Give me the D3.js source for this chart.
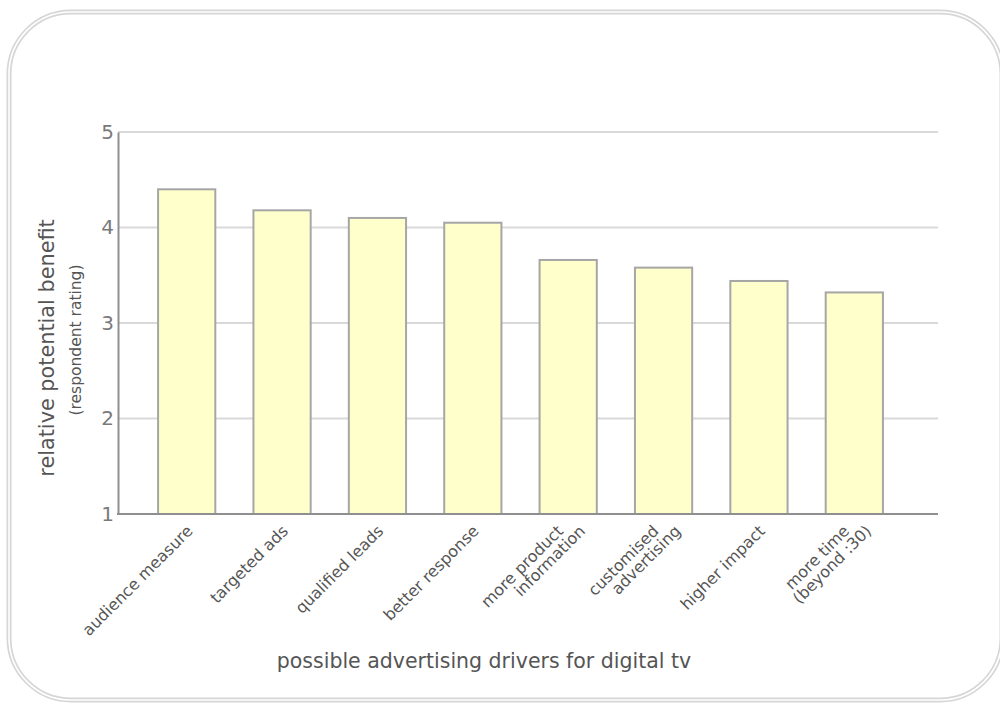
<!DOCTYPE html>
<html>
<head>
<meta charset="utf-8">
<script src="https://cdn.jsdelivr.net/npm/d3@7"></script>
<style>
  body { margin: 0; background: #fff; }
  text { font-family: "DejaVu Sans", Verdana, sans-serif; }
</style>
</head>
<body>
<div id="chart"></div>
<script>
// data
const drivers = [
    ["audience measure"],
    ["targeted ads"],
    ["qualified leads"],
    ["better response"],
    ["more product", "information"],
    ["customised", "advertising"],
    ["higher impact"],
    ["more time", "(beyond :30)"]
];
const ratings = [4.40, 4.18, 4.10, 4.05, 3.66, 3.58, 3.44, 3.32];
const yTicks = [1, 2, 3, 4, 5];

const W = 1000, H = 704;
let plot = { left: 118, right: 938, top: 132, bottom: 514 };

let svg = d3.select("#chart").append("svg")
    .attr("width", W)
    .attr("height", H);

// double rounded frame
let frame = d3.path();
function roundRect(p, x0, y0, x1, y1, r) {
    p.moveTo(x0 + r, y0);
    p.lineTo(x1 - r, y0);
    p.arcTo(x1, y0, x1, y0 + r, r);
    p.lineTo(x1, y1 - r);
    p.arcTo(x1, y1, x1 - r, y1, r);
    p.lineTo(x0 + r, y1);
    p.arcTo(x0, y1, x0, y1 - r, r);
    p.lineTo(x0, y0 + r);
    p.arcTo(x0, y0, x0 + r, y0, r);
    p.closePath();
    return p;
}
roundRect(frame, 9, 12, 1002, 700, 62);
svg.append("path").attr("d", frame.toString())
    .attr("fill", "none").attr("stroke", "#d6d6d6").attr("stroke-width", 5);
svg.append("path").attr("d", frame.toString())
    .attr("fill", "none").attr("stroke", "#fff").attr("stroke-width", 1.6);

// scales
let x = d3.scaleBand()
    .domain(drivers.map((d, i) => i))
    .range([139, 902])
    .paddingInner(0.4)
    .paddingOuter(0.2);
let y = d3.scaleLinear()
    .domain([1, 5])
    .range([plot.bottom, plot.top]);

// gridlines
svg.append("g")
    .selectAll("line")
    .data(yTicks.filter(d => d > 1))
    .join("line")
    .attr("x1", plot.left)
    .attr("x2", plot.right)
    .attr("y1", d => y(d))
    .attr("y2", d => y(d))
    .attr("stroke", "#d9d9d9")
    .attr("stroke-width", 2);

// bars
svg.append("g")
    .selectAll("rect")
    .data(ratings)
    .join("rect")
    .attr("x", (d, i) => x(i))
    .attr("y", d => y(d))
    .attr("width", x.bandwidth())
    .attr("height", d => y(1) - y(d))
    .attr("fill", "#ffffcc")
    .attr("stroke", "#a6a6a6")
    .attr("stroke-width", 2);

// axes lines
let yAxis = d3.axisLeft(y).tickValues(yTicks).tickFormat(d3.format("d")).tickSize(0).tickPadding(4);
svg.append("g")
    .attr("transform", `translate(${plot.left},0)`)
    .call(yAxis)
    .call(g => g.select(".domain").attr("stroke", "#8f8f8f").attr("stroke-width", 2))
    .call(g => g.selectAll(".tick text")
        .attr("font-size", 20)
        .attr("font-family", "DejaVu Sans, Verdana, sans-serif")
        .attr("fill", "#7a7a7a"));

svg.append("line")
    .attr("x1", plot.left - 1)
    .attr("x2", plot.right)
    .attr("y1", plot.bottom)
    .attr("y2", plot.bottom)
    .attr("stroke", "#8f8f8f")
    .attr("stroke-width", 2);

// category labels, rotated
let lineStep = 22;
let labels = svg.append("g")
    .selectAll("g")
    .data(drivers)
    .join("g");
labels.each(function(lines, i) {
    let cx = x(i) + x.bandwidth() / 2;
    lines.forEach((t, k) => {
        let ax = cx + 7 + (k - (lines.length - 1) / 2) * lineStep;
        d3.select(this).append("text")
            .attr("transform", `translate(${ax},532) rotate(-45)`)
            .attr("text-anchor", "end")
            .attr("font-size", 16)
            .attr("fill", "#555")
            .text(t);
    });
});

// axis titles
svg.append("text")
    .attr("transform", "translate(54,348) rotate(-90)")
    .attr("text-anchor", "middle")
    .attr("font-size", 20.8)
    .attr("fill", "#555")
    .text("relative potential benefit");

svg.append("text")
    .attr("transform", "translate(81,340) rotate(-90)")
    .attr("text-anchor", "middle")
    .attr("font-size", 15.5)
    .attr("fill", "#555")
    .text("(respondent rating)");

svg.append("text")
    .attr("x", 484)
    .attr("y", 668)
    .attr("text-anchor", "middle")
    .attr("font-size", 20.5)
    .attr("fill", "#555")
    .text("possible advertising drivers for digital tv");
</script>
</body>
</html>
